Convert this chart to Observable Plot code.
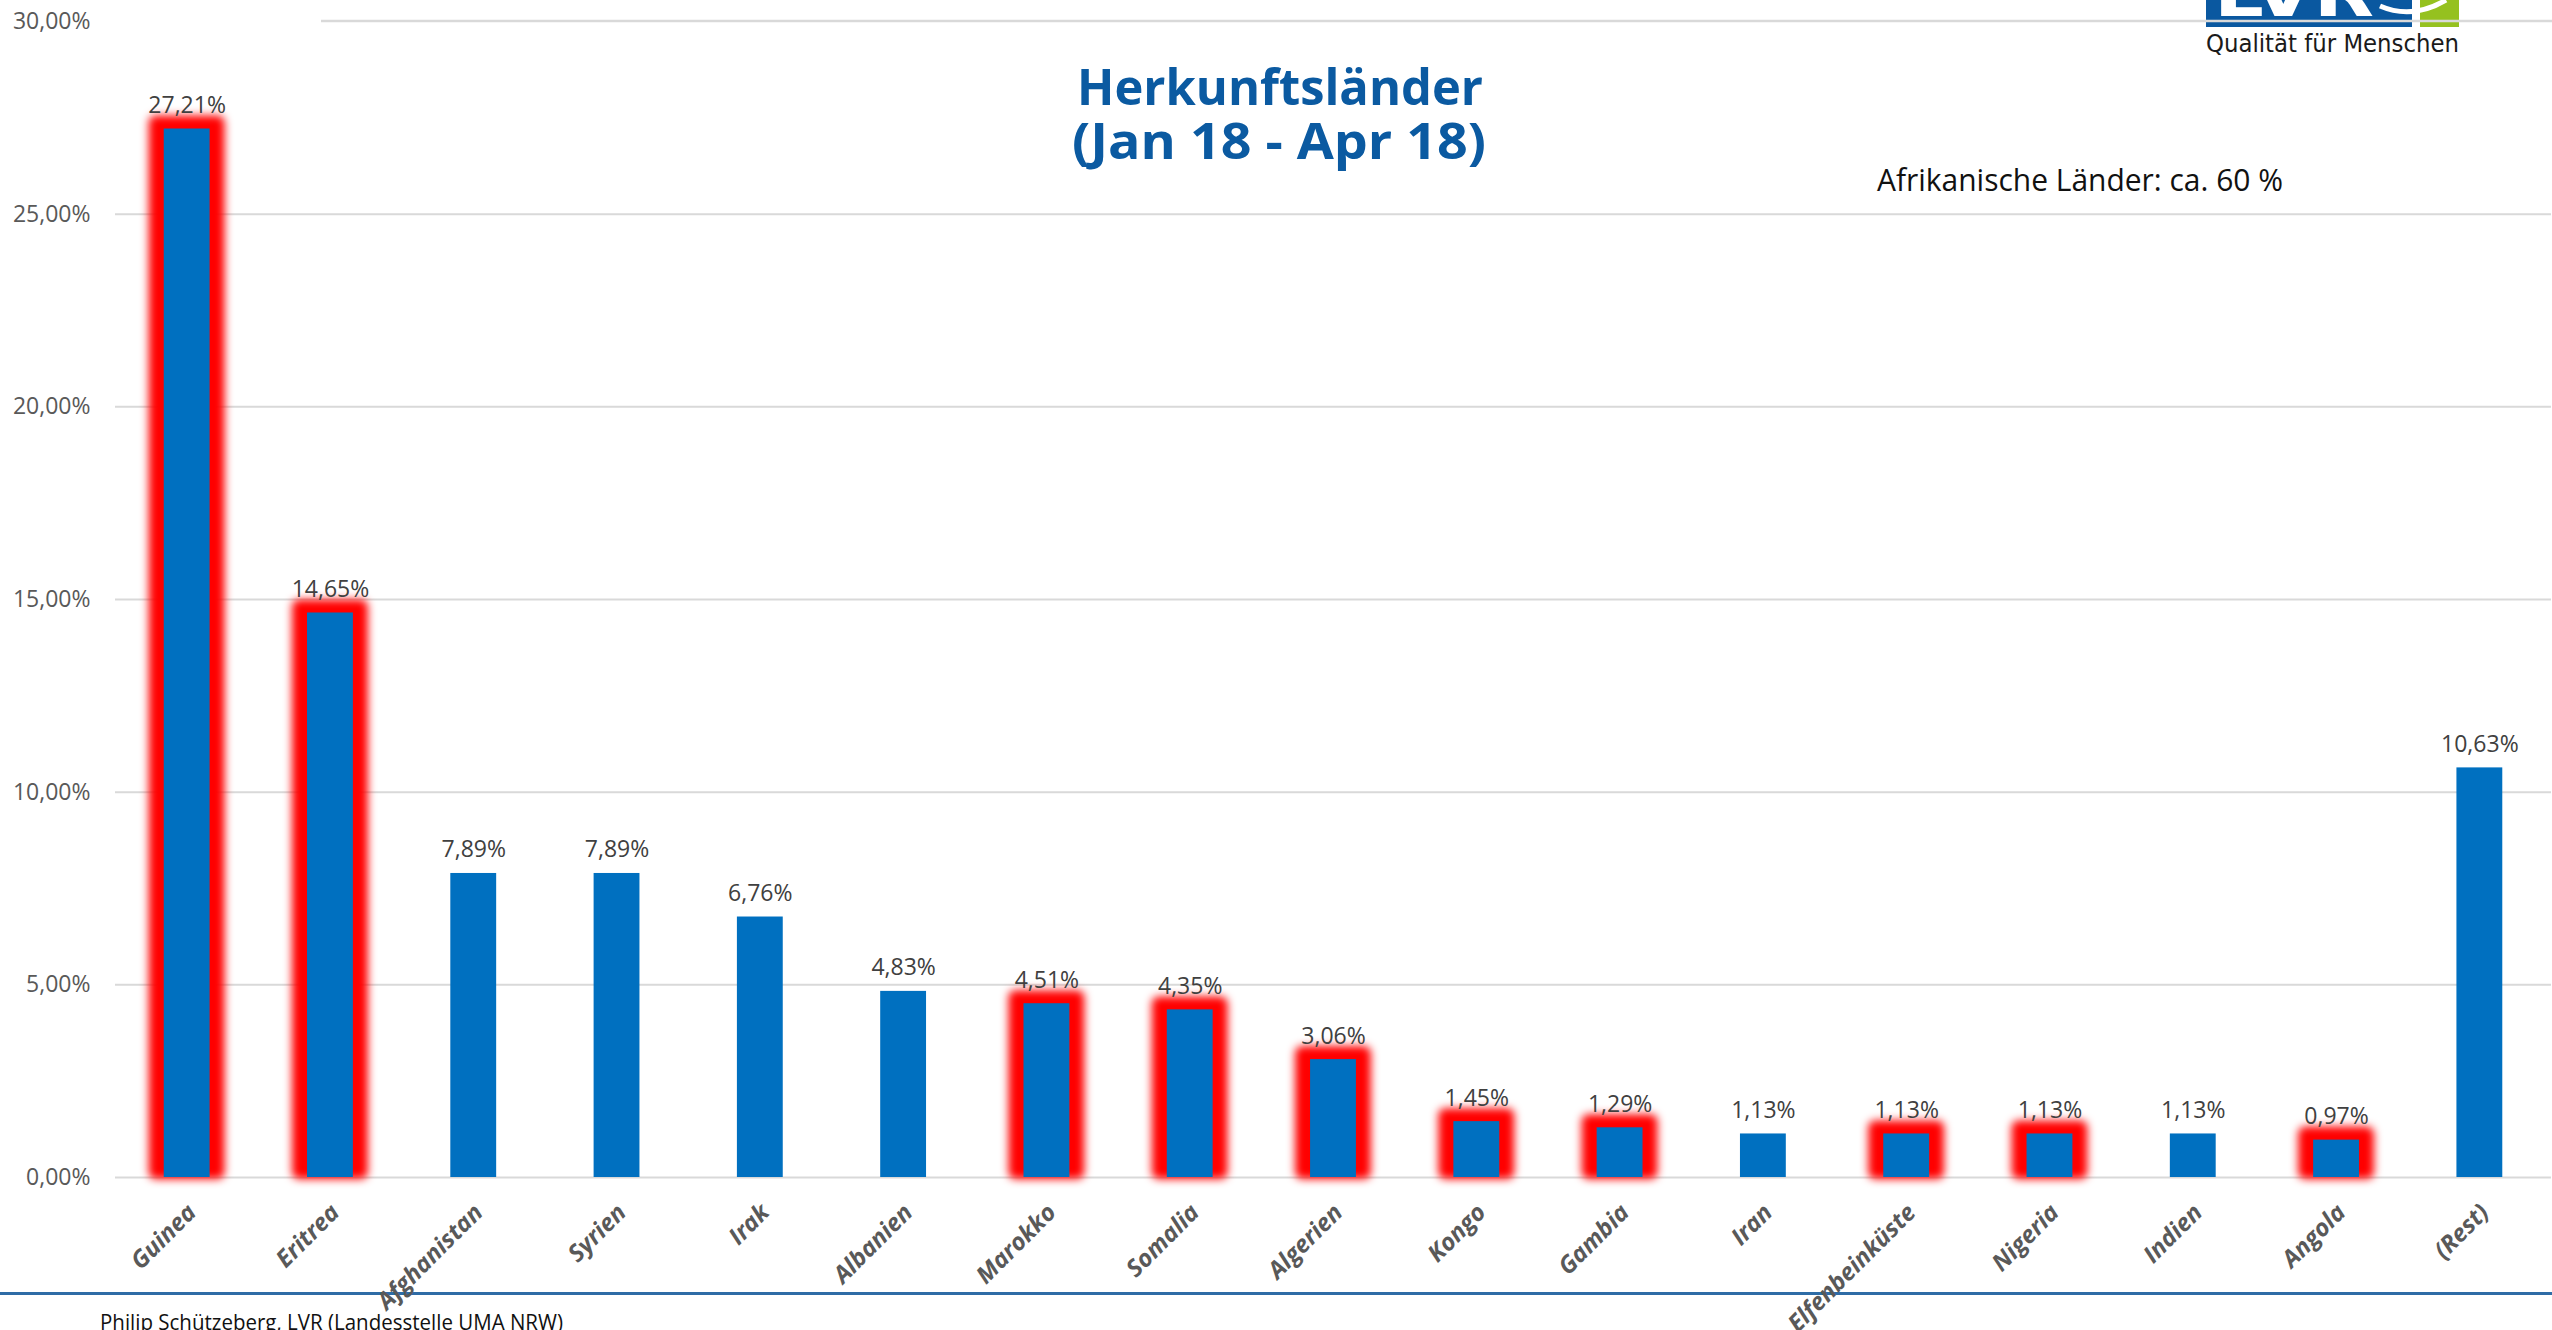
<!DOCTYPE html>
<html><head><meta charset="utf-8">
<script src="https://cdn.jsdelivr.net/npm/d3@7"></script>
<script src="https://cdn.jsdelivr.net/npm/@observablehq/plot@0.6"></script>
<style>
html,body{margin:0;padding:0;background:#fff;width:2552px;height:1330px;overflow:hidden;}
#stage{position:relative;width:2552px;height:1330px;font-family:'Open Sans',sans-serif;}
#deco{position:absolute;left:0;top:0;}
#chart{position:absolute;left:0;top:0;}
</style></head><body>
<div id="stage">
<svg id="deco" width="2552" height="1330" xmlns="http://www.w3.org/2000/svg">
  <defs><clipPath id="logoclip"><rect x="2206" y="0" width="206" height="27"/></clipPath></defs>
  <rect x="2206" y="0" width="206" height="27" fill="#0a58a0"/>
  <rect x="2420" y="0" width="39" height="27" fill="#95c11f"/>
  <g clip-path="url(#logoclip)">
    <text x="2214" y="16" font-family="'DejaVu Sans'" font-weight="bold" font-size="62" fill="#fff" textLength="160" lengthAdjust="spacingAndGlyphs">LVR</text>
  </g>
  <path d="M2380,6 Q2412,20 2446,0" fill="none" stroke="#fff" stroke-width="5"/>
  <line x1="321" x2="2552" y1="21" y2="21" stroke="#d9d9d9" stroke-width="2.5"/>
  <text x="2206" y="52" font-family="'DejaVu Sans'" font-size="24" fill="#1a1a1a" textLength="253" lengthAdjust="spacingAndGlyphs">Qualität für Menschen</text>
  <text x="1280" y="105" text-anchor="middle" font-family="'Open Sans'" font-weight="bold" font-size="51" fill="#0b5aa1" textLength="406" lengthAdjust="spacingAndGlyphs">Herkunftsländer</text>
  <text x="1279" y="159" text-anchor="middle" font-family="'Open Sans'" font-weight="bold" font-size="51" fill="#0b5aa1" textLength="414" lengthAdjust="spacingAndGlyphs">(Jan 18 - Apr 18)</text>
  <text x="1877" y="191" font-family="'Open Sans'" font-size="31" fill="#111" textLength="406" lengthAdjust="spacingAndGlyphs">Afrikanische Länder: ca. 60 %</text>
  <line x1="0" x2="2552" y1="1293.5" y2="1293.5" stroke="#2e6ca6" stroke-width="3"/>
  <text x="100" y="1330" font-family="'Open Sans'" font-size="22" fill="#111" textLength="463" lengthAdjust="spacingAndGlyphs">Philip Schützeberg, LVR (Landesstelle UMA NRW)</text>
</svg>
<div id="chart"></div>
</div>
<script>
const countries = ["Guinea","Eritrea","Afghanistan","Syrien","Irak","Albanien","Marokko","Somalia","Algerien","Kongo","Gambia","Iran","Elfenbeinküste","Nigeria","Indien","Angola","(Rest)"];
const shares = [27.21,14.65,7.89,7.89,6.76,4.83,4.51,4.35,3.06,1.45,1.29,1.13,1.13,1.13,1.13,0.97,10.63];
const africanCountries = ["Guinea","Eritrea","Marokko","Somalia","Algerien","Kongo","Gambia","Elfenbeinküste","Nigeria","Angola"];
const yTicks = [0,5,10,15,20,25,30];

const data = countries.map((c, i) => ({country: c, share: shares[i], african: africanCountries.includes(c)}));
const fmt = v => v.toFixed(2).replace(".", ",") + "%";

const plot = Plot.plot({
  width: 2552, height: 1330,
  marginTop: 21, marginBottom: 153, marginLeft: 115, marginRight: 1,
  style: {background: "transparent", fontFamily: "'Open Sans', sans-serif", overflow: "visible"},
  x: {domain: countries, paddingInner: 0.68, paddingOuter: 0.34, align: 0.5, round: false, axis: null},
  y: {domain: [0, 30], axis: null},
  marks: [
    Plot.gridY(yTicks.filter(t => t < 30), {stroke: "#d9d9d9", strokeOpacity: 1, strokeWidth: 2}),
    Plot.barY(data, {filter: d => d.african, x: "country", y: "share", fill: "#ff0000",
      insetLeft: -15, insetRight: -15, insetTop: -13, insetBottom: -2, rx: 7}),
    Plot.barY(data, {x: "country", y: "share", fill: "#0070c0"}),
    Plot.text(data, {x: "country", y: "share", text: d => fmt(d.share), lineAnchor: "bottom", dy: -16,
      fontSize: 23, fill: "#404040"}),
    Plot.axisY(yTicks, {tickSize: 0, tickPadding: 25, tickFormat: fmt, fontSize: 23, fill: "#595959", label: null}),
    Plot.text(countries, {x: d => d, frameAnchor: "bottom", rotate: -45, textAnchor: "end", lineAnchor: "middle",
      dx: 5, dy: 31, fontSize: 24, fontWeight: "bold", fontStyle: "italic", fill: "#595959"})
  ]
});

const svgNS = "http://www.w3.org/2000/svg";
const defs = document.createElementNS(svgNS, "defs");
defs.innerHTML = '<filter id="glowblur" filterUnits="userSpaceOnUse" x="0" y="0" width="2552" height="1330"><feGaussianBlur stdDeviation="4"/></filter>';
plot.prepend(defs);
const barGroups = plot.querySelectorAll('g[aria-label="bar"]');
if (barGroups.length) barGroups[0].setAttribute("filter", "url(#glowblur)");

document.getElementById("chart").appendChild(plot);
</script>
</body></html>
